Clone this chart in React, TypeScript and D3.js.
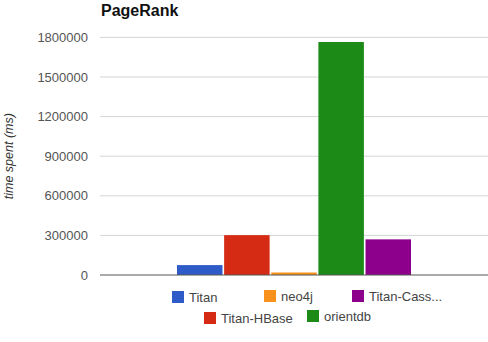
import React from "react";
import * as d3 from "d3";

const categories = ["PageRank"];
const seriesNames = ["Titan", "Titan-HBase", "neo4j", "orientdb", "Titan-Cassandra"];
const seriesValues = [75000, 302000, 19000, 1765000, 270000];
const seriesColors = ["#2f5bc8", "#d52b14", "#f8921c", "#1b8a17", "#8c008c"];
const yTicks = [0, 300000, 600000, 900000, 1200000, 1500000, 1800000];
const legendRows = [["Titan", "neo4j", "Titan-Cass..."], ["Titan-HBase", "orientdb"]];

const W = 488;
const H = 342;
const left = 100;
const right = 488;
const top = 37.4;
const bottom = 275;

export default function App() {
  const y = d3.scaleLinear().domain([0, 1800000]).range([bottom, top]);
  const x0 = d3.scaleBand<string>().domain(categories).range([left, right]).paddingOuter(0.329).paddingInner(0);
  const x1 = d3.scaleBand<string>().domain(seriesNames).range([0, x0.bandwidth()]).paddingInner(0.035).paddingOuter(0);
  const font = "'Liberation Sans', Arial, sans-serif";

  const legendPos: Record<string, { x: number; y: number }> = {
    Titan: { x: 172, y: 291 },
    neo4j: { x: 264, y: 290 },
    "Titan-Cass...": { x: 352, y: 290 },
    "Titan-HBase": { x: 204, y: 312 },
    orientdb: { x: 307, y: 310 },
  };
  const colorFor = (label: string) => {
    const idx = label === "Titan-Cass..." ? 4 : seriesNames.indexOf(label);
    return seriesColors[idx];
  };

  return (
    <svg width={W} height={H} style={{ position: "absolute", left: 0, top: 0, background: "#fff" }} fontFamily={font}>
      <text x={101} y={16} fontSize={16} fontWeight="bold" fill="#111">PageRank</text>
      {yTicks.map((t) => (
        <g key={t}>
          {t !== 0 && <line x1={left} x2={right} y1={y(t)} y2={y(t)} stroke="#d4d4d4" strokeWidth={1} />}
          <text x={88} y={y(t)} dy="0.35em" textAnchor="end" fontSize={13} fill="#555">{t}</text>
        </g>
      ))}
      <text
        transform={`translate(13,${(top + bottom) / 2}) rotate(-90)`}
        textAnchor="middle"
        fontSize={12.5}
        fontStyle="italic"
        fill="#333"
      >time spent (ms)</text>
      {categories.map((c) => (
        <g key={c} transform={`translate(${x0(c)},0)`}>
          {seriesNames.map((s, i) => (
            <rect
              key={s}
              x={x1(s)}
              y={y(seriesValues[i])}
              width={x1.bandwidth()}
              height={bottom - y(seriesValues[i])}
              fill={seriesColors[i]}
            />
          ))}
        </g>
      ))}
      <line x1={left} x2={right} y1={bottom} y2={bottom} stroke="#555" strokeWidth={1} />
      {legendRows.flat().map((label) => {
        const p = legendPos[label];
        return (
          <g key={label}>
            <rect x={p.x} y={p.y} width={12} height={12} fill={colorFor(label)} />
            <text x={p.x + 17} y={p.y + 6} dy="0.35em" fontSize={13} fill="#444">{label}</text>
          </g>
        );
      })}
    </svg>
  );
}
